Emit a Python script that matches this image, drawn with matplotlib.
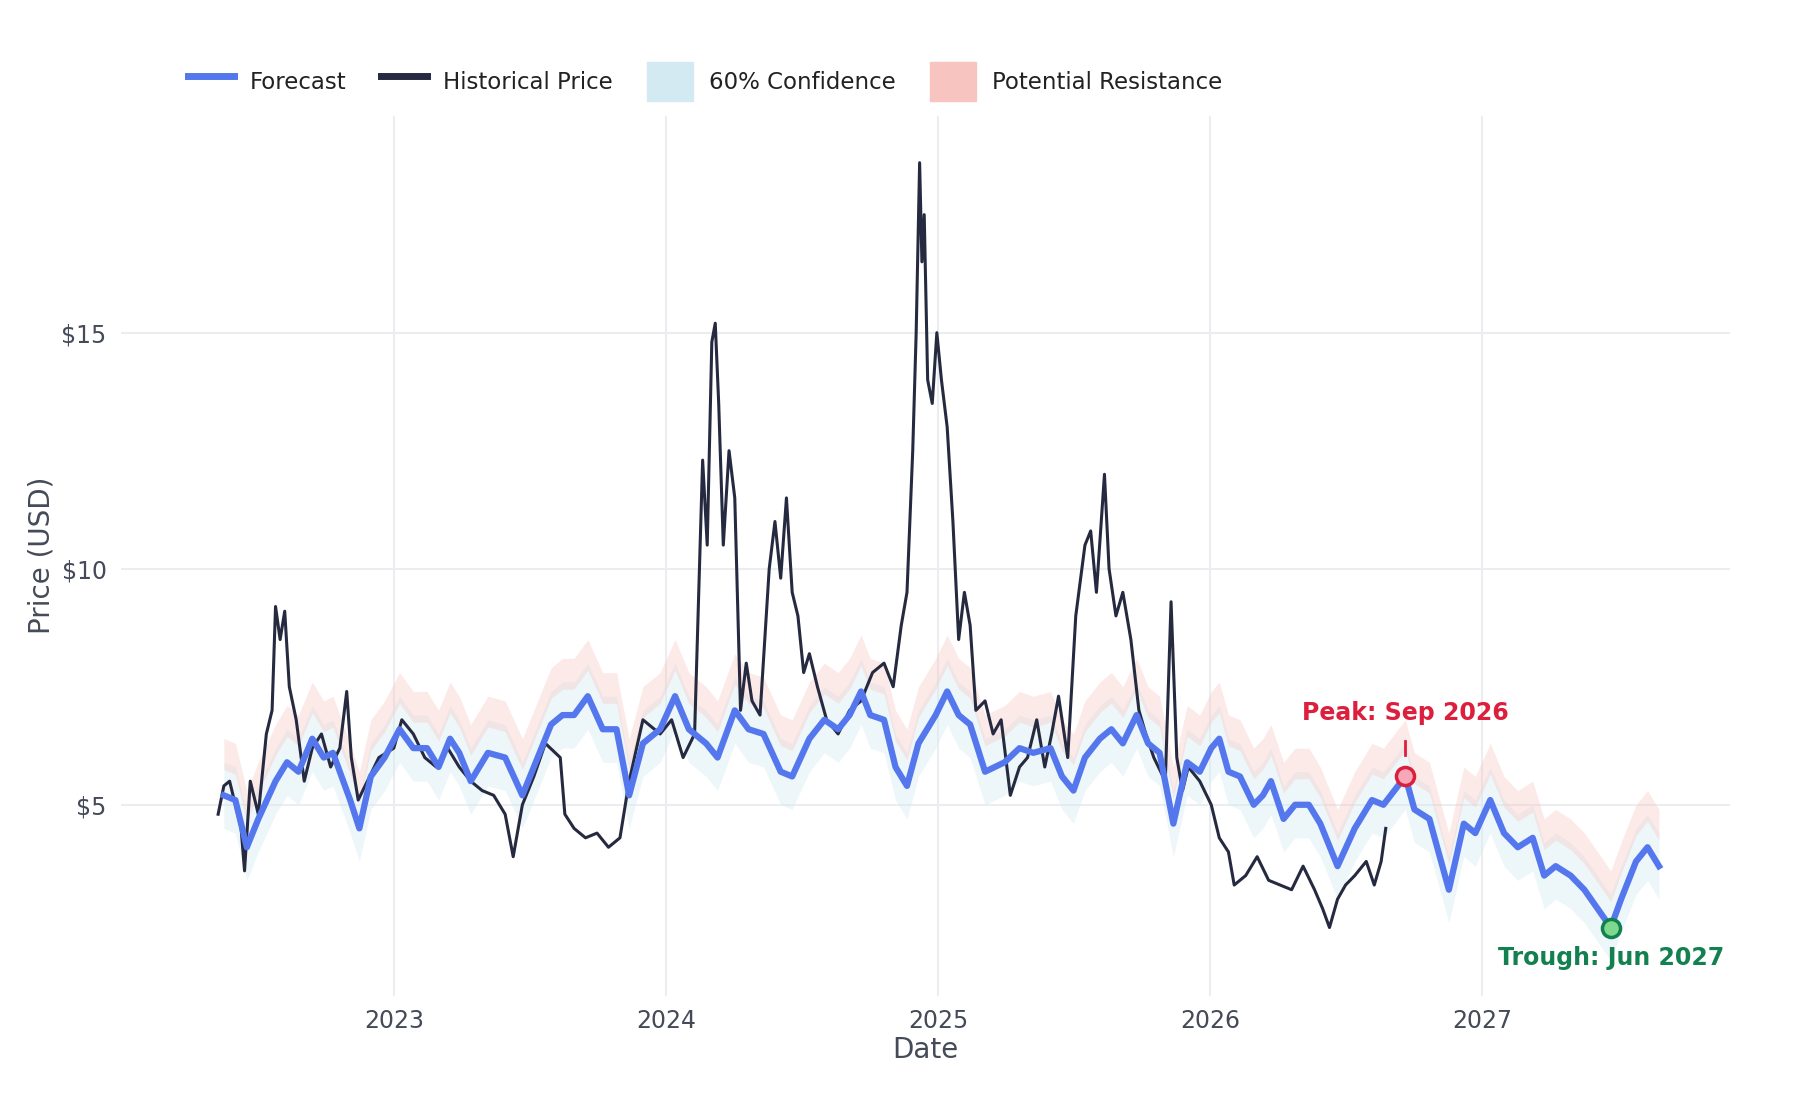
import numpy as np
import matplotlib
matplotlib.use("Agg")
import matplotlib.pyplot as plt
from matplotlib.patches import Patch
from matplotlib.lines import Line2D

# pixel-read data converted to (year, price)
hist_px = [190,195,200,205,210,213,218,225,232,237,240,244,248,252,258,265,272,280,288,296,302,306,312,320,330,343,350,360,370,380,390,400,410,420,430,440,447,455,465,475,488,492,500,510,520,530,540,548,560,575,585,595,605,612,616,620,623,626,630,635,640,645,650,655,662,670,675,680,685,690,695,700,705,712,720,730,740,750,760,770,778,785,790,795,798,801,803,805,808,812,816,820,825,830,835,840,845,850,858,865,872,880,888,895,903,910,916,922,930,937,945,950,955,962,966,972,978,985,992,998,1005,1015,1020,1025,1030,1035,1045,1055,1062,1070,1075,1085,1095,1105,1115,1125,1135,1145,1152,1158,1165,1172,1180,1190,1197,1203,1207]
hist_price = [4.8,5.4,5.5,5.0,4.5,3.6,5.5,4.8,6.5,7.0,9.2,8.5,9.1,7.5,6.8,5.5,6.2,6.5,5.8,6.2,7.4,6.0,5.1,5.5,6.0,6.2,6.8,6.5,6.0,5.8,6.2,5.8,5.5,5.3,5.2,4.8,3.9,5.0,5.6,6.3,6.0,4.8,4.5,4.3,4.4,4.1,4.3,5.5,6.8,6.5,6.8,6.0,6.5,12.3,10.5,14.8,15.2,13.5,10.5,12.5,11.5,7.0,8.0,7.2,6.9,10.0,11.0,9.8,11.5,9.5,9.0,7.8,8.2,7.5,6.8,6.5,7.0,7.2,7.8,8.0,7.5,8.8,9.5,12.5,15.0,18.6,16.5,17.5,14.0,13.5,15.0,14.0,13.0,11.0,8.5,9.5,8.8,7.0,7.2,6.5,6.8,5.2,5.8,6.0,6.8,5.8,6.5,7.3,6.0,9.0,10.5,10.8,9.5,12.0,10.0,9.0,9.5,8.5,7.0,6.5,6.0,5.5,9.3,6.0,5.3,5.8,5.5,5.0,4.3,4.0,3.3,3.5,3.9,3.4,3.3,3.2,3.7,3.2,2.8,2.4,3.0,3.3,3.5,3.8,3.3,3.8,4.5]
fc_px = [195,205,215,225,240,250,260,272,282,290,305,313,323,335,348,360,372,382,392,400,410,425,440,455,465,480,490,500,512,525,537,548,560,575,588,600,615,625,640,652,665,680,690,705,718,730,740,750,758,770,780,790,800,815,825,835,845,858,875,888,900,915,925,935,945,958,968,978,990,1000,1010,1022,1034,1045,1055,1062,1070,1080,1092,1100,1107,1118,1128,1140,1150,1165,1180,1195,1205,1224,1232,1245,1262,1275,1285,1298,1310,1322,1335,1345,1355,1368,1380,1403,1412,1425,1435,1445]
fc_price = [5.2,5.1,4.1,4.7,5.5,5.9,5.7,6.4,6.0,6.1,5.1,4.5,5.6,6.0,6.6,6.2,6.2,5.8,6.4,6.1,5.5,6.1,6.0,5.2,5.8,6.7,6.9,6.9,7.3,6.6,6.6,5.2,6.3,6.6,7.3,6.6,6.3,6.0,7.0,6.6,6.5,5.7,5.6,6.4,6.8,6.6,6.9,7.4,6.9,6.8,5.8,5.4,6.3,6.9,7.4,6.9,6.7,5.7,5.9,6.2,6.1,6.2,5.6,5.3,6.0,6.4,6.6,6.3,6.9,6.3,6.1,4.6,5.9,5.7,6.2,6.4,5.7,5.6,5.0,5.2,5.5,4.7,5.0,5.0,4.6,3.7,4.5,5.1,5.0,5.6,4.9,4.7,3.2,4.6,4.4,5.1,4.4,4.1,4.3,3.5,3.7,3.5,3.2,2.4,3.0,3.8,4.1,3.7]

def px2yr(p):
    return 2023 + (np.asarray(p) - 343) / 237.0

hx = px2yr(hist_px); hy = np.array(hist_price)
fx = px2yr(fc_px); fy = np.array(fc_price)

plt.rcParams['font.family'] = ['DejaVu Sans']
fig = plt.figure(figsize=(18, 11), dpi=100)
ax = fig.add_axes([0.067, 0.095, 0.894, 0.80])

ax.fill_between(fx, fy - 0.7, fy + 0.7, color='#d4eaf2', alpha=0.4, lw=0)
ax.fill_between(fx, fy + 0.55, fy + 1.2, color='#f8c4c0', alpha=0.35, lw=0)
ax.plot(hx, hy, color='#262a40', lw=2.2, zorder=3)
ax.plot(fx, fy, color='#5577ee', lw=4.5, zorder=4)

# peak & trough
pi = fc_px.index(1224); ti = fc_px.index(1403)
ax.plot(fx[pi], fy[pi], 'o', ms=13, mfc='#f7a8b8', mec='#dc1f3c', mew=2.5, zorder=5)
ax.plot(fx[ti], fy[ti], 'o', ms=13, mfc='#7ed88e', mec='#13804f', mew=2.5, zorder=5)
ax.plot([fx[pi], fx[pi]], [fy[pi] + 0.45, fy[pi] + 0.75], color='#dc1f3c', lw=2)
ax.text(fx[pi], fy[pi] + 1.1, 'Peak: Sep 2026', color='#dc1f3c', fontsize=17,
        fontweight='bold', ha='center', va='bottom')
ax.text(fx[ti], fy[ti] - 0.4, 'Trough: Jun 2027', color='#13804f', fontsize=17,
        fontweight='bold', ha='center', va='top', clip_on=True)

ax.set_xlim(2021.996, 2027.91)
ax.set_ylim(0.96, 19.6)
ax.set_xticks([2023, 2024, 2025, 2026, 2027])
ax.set_xticklabels(['2023', '2024', '2025', '2026', '2027'])
ax.set_yticks([5, 10, 15])
ax.set_yticklabels(['$5', '$10', '$15'])
ax.grid(True, color='#ebedf0', lw=1.5)
ax.set_axisbelow(True)
for s in ax.spines.values():
    s.set_visible(False)
ax.tick_params(length=0, labelsize=17, colors='#444a58', pad=10)
ax.set_xlabel('Date', fontsize=20, color='#444a58', labelpad=2)
ax.set_ylabel('Price (USD)', fontsize=20, color='#444a58', labelpad=4)

handles = [Line2D([], [], color='#5577ee', lw=5),
           Line2D([], [], color='#262a40', lw=5),
           Patch(color='#d4eaf2'), Patch(color='#f8c4c0')]
labels = ['Forecast', 'Historical Price', '60% Confidence', 'Potential Resistance']
leg = fig.legend(handles, labels, loc='upper left', bbox_to_anchor=(0.093, 0.962),
                 ncol=4, frameon=False, fontsize=16.5, handlelength=2.0,
                 handleheight=2.2, columnspacing=1.5, handletextpad=0.7,
                 labelcolor='#222222')
fig.savefig('out.png', dpi=100, facecolor='white')
